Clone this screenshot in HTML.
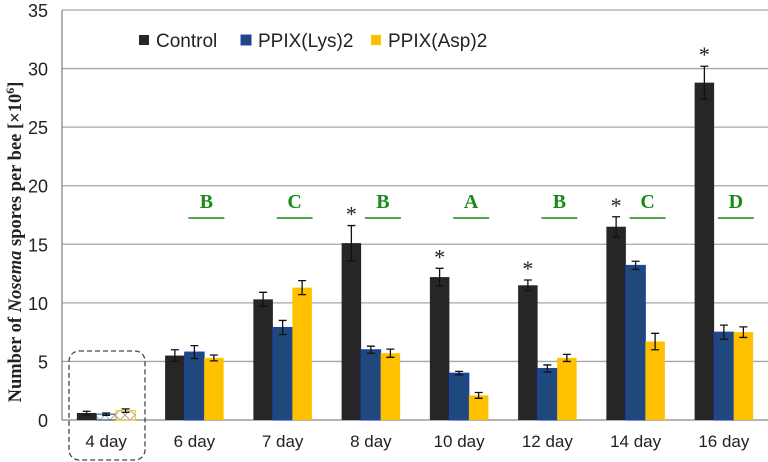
<!DOCTYPE html>
<html><head><meta charset="utf-8"><style>
body{margin:0;background:#fff;}
svg{display:block;font-family:"Liberation Sans",sans-serif;}
</style></head><body>
<svg id="chart" width="768" height="462" viewBox="0 0 768 462">
<defs>
<pattern id="xpat" width="10" height="10" patternUnits="userSpaceOnUse">
<path d="M0,0L10,10M10,0L0,10" stroke="#999" stroke-width="0.8"/>
</pattern>
</defs>
<g id="grid"></g>
<g id="bars"></g>
<g id="ann"></g>
<text transform="translate(21,242) rotate(-90)" text-anchor="middle" font-family="Liberation Serif,serif" font-weight="bold" font-size="18.5" fill="#222">Number of <tspan font-style="italic">Nosema</tspan> spores per bee [×10<tspan dy="-7" font-size="12">6</tspan><tspan dy="7">]</tspan></text>
<g font-size="19" fill="#222">
<rect x="139" y="35" width="10" height="10" fill="#262626"/>
<text x="156" y="47">Control</text>
<rect x="241" y="35" width="10" height="10" fill="#1f497d" stroke="#1f3fbf" stroke-width="1"/>
<text x="258" y="47">PPIX(Lys)2</text>
<rect x="371" y="35" width="10" height="10" fill="#ffc000"/>
<text x="388" y="47">PPIX(Asp)2</text>
</g>
<rect x="69" y="351" width="76" height="109" rx="10" fill="none" stroke="#444" stroke-width="1.3" stroke-dasharray="5,3"/>
</svg>
<script>
const categories=["4 day","6 day","7 day","8 day","10 day","12 day","14 day","16 day"];
const controlVals=[0.6,5.5,10.3,15.1,12.2,11.5,16.5,28.8];
const controlErr=[0.15,0.5,0.6,1.5,0.75,0.45,0.85,1.4];
const lysVals=[0.5,5.8,7.9,6.0,4.0,4.4,13.2,7.5];
const lysErr=[0.1,0.55,0.6,0.3,0.15,0.3,0.35,0.6];
const aspVals=[0.8,5.3,11.3,5.7,2.1,5.3,6.7,7.5];
const aspErr=[0.15,0.25,0.6,0.35,0.25,0.3,0.7,0.45];
const yTicks=[0,5,10,15,20,25,30,35];
const groupLetters=["","B","C","B","A","B","C","D"];
const starFlags=[false,false,false,true,true,true,true,true];

const NS="http://www.w3.org/2000/svg";
const X0=62,X1=768,Y0=420,YTOP=10,YMAX=35;
const gw=(X1-X0)/categories.length;
const y=v=>Y0-(v/YMAX)*(Y0-YTOP);
const xc=i=>X0+gw*(i+0.5);
const bw=19.5;
function el(tag,attrs,parent){const e=document.createElementNS(NS,tag);for(const k in attrs)e.setAttribute(k,attrs[k]);parent.appendChild(e);return e;}
const grid=document.getElementById('grid'),bars=document.getElementById('bars'),ann=document.getElementById('ann');
yTicks.forEach(t=>{
  const l=el('line',{x1:X0,x2:X1,y1:y(t),y2:y(t),stroke:t===0?'#888':'#a6a6a6','stroke-width':1.3},grid);
  
  
  const tx=el('text',{x:X0-14,y:y(t)+7,'text-anchor':'end','font-size':18,fill:'#222'},grid);
  tx.textContent=t;
  
  
});
const ax=el('line',{x1:X0,x2:X0,y1:YTOP,y2:Y0,stroke:'#888','stroke-width':1.3},grid);


const series=[{v:controlVals,e:controlErr,f:'#262626',s:'none',n:'control'},{v:lysVals,e:lysErr,f:'#1f497d',s:'#1f3fbf',n:'lys'},{v:aspVals,e:aspErr,f:'#ffc000',s:'none',n:'asp'}];
categories.forEach((c,i)=>{
  series.forEach((s,j)=>{
    const x=xc(i)-1.5*bw+j*bw;
    const v=s.v[i];
    let fill=s.f,stroke=s.s;
    if(i===0&&j>0){fill='url(#xpat)';stroke=s.f==='#ffc000'?'#ffc000':'#1f497d';}
    const r=el('rect',{x:x,y:y(v),width:bw,height:Y0-y(v),fill:fill,stroke:stroke,'stroke-width':1},bars);
    
    
    const cx=x+bw/2,t=y(v+s.e[i]),b=y(v-s.e[i]);
    const eb=el('path',{d:`M${cx-4},${t}H${cx+4}M${cx},${t}V${b}M${cx-4},${b}H${cx+4}`,stroke:'#111','stroke-width':1.3,fill:'none'},bars);
    
    
  });
  const lab=el('text',{x:xc(i),y:447,'text-anchor':'middle','font-size':17,fill:'#222'},ann);
  lab.textContent=c;
  
  
  if(groupLetters[i]){
    const lx=xc(i)+12;
    const lt=el('text',{x:lx,y:208,'text-anchor':'middle','font-size':20,'font-weight':'bold','font-family':'Liberation Serif,serif',fill:'#1a8a1a'},ann);
    lt.textContent=groupLetters[i];
    
    
    const ul=el('line',{x1:lx-18,x2:lx+18,y1:218,y2:218,stroke:'#1a8a1a','stroke-width':1.5},ann);
    
    
  }
  if(starFlags[i]){
    const sx=xc(i)-bw;
    const st=el('text',{x:sx,y:y(controlVals[i]+controlErr[i])-4,'text-anchor':'middle','font-size':22,'font-family':'Liberation Serif,serif',fill:'#222'},ann);
    st.textContent='*';
    
    
  }
});
</script>
</body></html>
